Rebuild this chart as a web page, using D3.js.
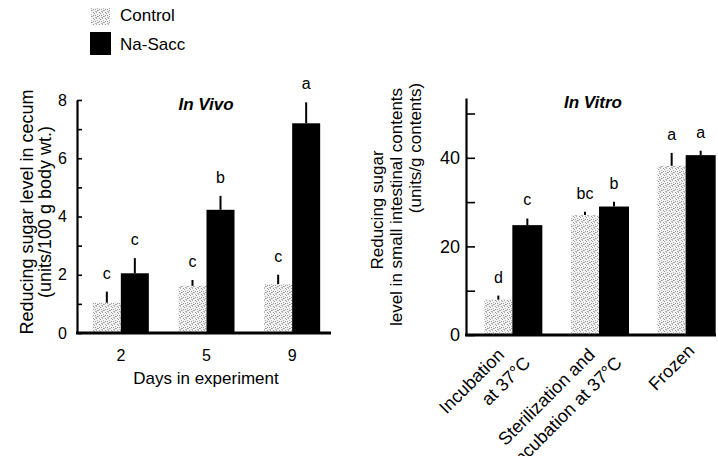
<!DOCTYPE html>
<html>
<head>
<meta charset="utf-8">
<script src="https://cdn.jsdelivr.net/npm/d3@7"></script>
<style>
  html, body { margin: 0; padding: 0; background: #fff; }
  svg { display: block; }
  text { font-family: "Liberation Sans", Arial, Helvetica, sans-serif; fill: #000; }
</style>
</head>
<body>
<svg id="chart" width="718" height="456"></svg>
<script>
// ---------------- DATA ----------------
const seriesNames = ["Control", "Na-Sacc"];

// In Vivo panel
const vivoDays = ["2", "5", "9"];
const vivoControl = [1.04, 1.62, 1.68];
const vivoControlErr = [0.38, 0.20, 0.32];
const vivoNaSacc = [2.05, 4.23, 7.20];
const vivoNaSaccErr = [0.52, 0.48, 0.72];
const vivoControlLetters = ["c", "c", "c"];
const vivoNaSaccLetters = ["c", "b", "a"];
const vivoTicks = [0, 1, 2, 3, 4, 5, 6, 7, 8];
const vivoTickLabels = ["0", "", "2", "", "4", "", "6", "", "8"];

// In Vitro panel
const vitroCategories = ["Incubation at 37°C", "Sterilization and incubation at 37°C", "Frozen"];
const vitroCategoryLines = [["Incubation", "at 37°C"], ["Sterilization and", "incubation at 37°C"], ["Frozen"]];
const vitroControl = [8.0, 27.1, 38.2];
const vitroControlErr = [0.9, 0.7, 2.9];
const vitroNaSacc = [24.8, 29.0, 40.6];
const vitroNaSaccErr = [1.5, 1.1, 1.0];
const vitroControlLetters = ["d", "bc", "a"];
const vitroNaSaccLetters = ["c", "b", "a"];
const vitroTicks = [0, 10, 20, 30, 40, 50];
const vitroTickLabels = ["0", "", "20", "", "40", ""];

// ---------------- DRAW ----------------
const svg = d3.select("#chart");
const FONT = '"Liberation Sans", Arial, Helvetica, sans-serif';

// stipple pattern for Control bars
const defs = svg.append("defs");
const pat = defs.append("pattern").attr("id", "stipple")
  .attr("patternUnits", "userSpaceOnUse").attr("width", 6).attr("height", 6);
pat.append("rect").attr("width", 6).attr("height", 6).attr("fill", "#f2f2f2");
[[0,0],[3,0],[1,2],[4,1],[2,4],[5,3],[0,5],[3,3],[5,5],[1,4]].forEach(([x,y], k) =>
  pat.append("rect").attr("x", x).attr("y", y).attr("width", 1).attr("height", 1)
    .attr("fill", k % 2 ? "#9a9a9a" : "#b4b4b4"));

const fills = { "Control": "url(#stipple)", "Na-Sacc": "#000" };

// ----- Legend -----
const legend = svg.append("g");
legend.append("rect").attr("x", 91).attr("y", 8).attr("width", 19).attr("height", 17).attr("fill", fills["Control"]);
legend.append("rect").attr("x", 90).attr("y", 32).attr("width", 21).attr("height", 23).attr("fill", fills["Na-Sacc"]);
legend.append("text").attr("x", 120).attr("y", 21).attr("font-size", 17).text(seriesNames[0]);
legend.append("text").attr("x", 120).attr("y", 50).attr("font-size", 17).text(seriesNames[1]);

function panel(opt) {
  const g = svg.append("g");
  const x = d3.scalePoint().domain(opt.cats).range(opt.xRange).padding(0.5);
  const y = d3.scaleLinear().domain(opt.yDomain).range([opt.y0, opt.yTop]);

  const rows = [];
  opt.cats.forEach((c, i) => {
    rows.push({ c, s: "Control", v: opt.ctrl[i], e: opt.ctrlErr[i], l: opt.ctrlLet[i], off: -opt.bw[0] });
    rows.push({ c, s: "Na-Sacc", v: opt.na[i], e: opt.naErr[i], l: opt.naLet[i], off: 0 });
  });
  const bw = s => s === "Control" ? opt.bw[0] : opt.bw[1];
  g.selectAll("rect.bar").data(rows).join("rect")
    .attr("class", "bar")
    .attr("x", d => x(d.c) + d.off)
    .attr("y", d => y(d.v))
    .attr("width", d => bw(d.s))
    .attr("height", d => y(0) - y(d.v))
    .attr("fill", d => fills[d.s]);

  // error bars (upper only)
  g.selectAll("line.err").data(rows).join("line")
    .attr("class", "err")
    .attr("x1", d => x(d.c) + d.off + bw(d.s) / 2)
    .attr("x2", d => x(d.c) + d.off + bw(d.s) / 2)
    .attr("y1", d => y(d.v))
    .attr("y2", d => y(d.v + d.e))
    .attr("stroke", "#000").attr("stroke-width", 2);

  // significance letters
  g.selectAll("text.let").data(rows).join("text")
    .attr("class", "let")
    .attr("x", d => x(d.c) + d.off + bw(d.s) / 2)
    .attr("y", d => y(d.v + d.e) - 13)
    .attr("text-anchor", "middle")
    .attr("font-size", 16)
    .text(d => d.l);

  // y axis
  const ax = g.append("g").attr("transform", `translate(${opt.x0},0)`)
    .call(d3.axisLeft(y).tickValues(opt.ticks)
      .tickFormat((d, i) => opt.tickLabels[i])
      .tickSize(-opt.tickLen).tickPadding(opt.tickPad).tickSizeOuter(0));
  ax.select(".domain").attr("stroke-width", 2.2);
  ax.selectAll(".tick line").attr("stroke-width", 1.6);
  ax.selectAll(".tick text").attr("font-size", opt.tickFont).attr("font-family", FONT).attr("fill", "#000");

  // baseline
  g.append("line").attr("x1", opt.x0 - 1).attr("x2", opt.xEnd)
    .attr("y1", y(0)).attr("y2", y(0)).attr("stroke", "#000").attr("stroke-width", 3);

  // title
  g.append("text").attr("x", opt.titleX).attr("y", opt.titleY)
    .attr("text-anchor", "middle").attr("font-size", 17).attr("font-weight", "bold")
    .attr("font-style", "italic").text(opt.title);

  return { g, x, y };
}

// In Vivo
const pv = panel({
  cats: vivoDays, xRange: [78, 335], x0: 77, xEnd: 331, y0: 333, yTop: 100, yDomain: [0, 8],
  ctrl: vivoControl, ctrlErr: vivoControlErr, na: vivoNaSacc, naErr: vivoNaSaccErr,
  ctrlLet: vivoControlLetters, naLet: vivoNaSaccLetters, bw: [28, 28],
  ticks: vivoTicks, tickLabels: vivoTickLabels, tickLen: 5, tickPad: 10, tickFont: 16,
  title: "In Vivo", titleX: 206, titleY: 110
});
pv.g.selectAll("text.xl").data(vivoDays).join("text")
  .attr("class", "xl").attr("x", d => pv.x(d)).attr("y", 361)
  .attr("text-anchor", "middle").attr("font-size", 16).text(d => d);
pv.g.append("text").attr("x", 206).attr("y", 384).attr("text-anchor", "middle")
  .attr("font-size", 17).text("Days in experiment");
const vivoTitleLines = ["Reducing sugar level in cecum", "(units/100 g body wt.)"];
vivoTitleLines.forEach((t, i) => {
  pv.g.append("text").attr("transform", `translate(${33 + i * 18},212) rotate(-90)`)
    .attr("text-anchor", "middle").attr("font-size", 18).text(t);
});

// In Vitro
const pt = panel({
  cats: vitroCategories, xRange: [469, 729], x0: 466, xEnd: 716, y0: 335, yTop: 98, yDomain: [0, 53.5],
  ctrl: vitroControl, ctrlErr: vitroControlErr, na: vitroNaSacc, naErr: vitroNaSaccErr,
  ctrlLet: vitroControlLetters, naLet: vitroNaSaccLetters, bw: [28, 30],
  ticks: vitroTicks, tickLabels: vitroTickLabels, tickLen: 9, tickPad: 6, tickFont: 18,
  title: "In Vitro", titleX: 593, titleY: 108
});
const vitroLabelAnchors = [[[-7, 356], [19, 364]], [[-3, 356], [24, 364]], [[10, 352]]];
vitroCategories.forEach((c, i) => {
  vitroCategoryLines[i].forEach((t, j) => {
    const [dx, yy] = vitroLabelAnchors[i][j];
    pt.g.append("text")
      .attr("transform", `translate(${pt.x(c) + dx},${yy}) rotate(-45)`)
      .attr("text-anchor", "end").attr("font-size", 18).text(t);
  });
});
const vitroTitleLines = ["Reducing sugar", "level in small intestinal contents", "(units/g contents)"];
const vitroTitlePos = [[383, 210], [402, 207], [421, 148]];
vitroTitleLines.forEach((t, i) => {
  pt.g.append("text").attr("transform", `translate(${vitroTitlePos[i][0]},${vitroTitlePos[i][1]}) rotate(-90)`)
    .attr("text-anchor", "middle").attr("font-size", 17).text(t);
});
</script>
</body>
</html>
